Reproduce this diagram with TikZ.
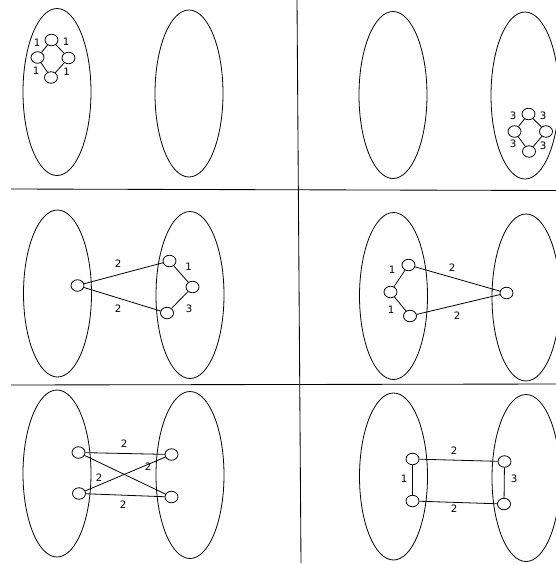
\documentclass[tikz,border=0pt]{standalone}
\usepackage{fontspec}
\setmainfont{DejaVu Sans}
\usetikzlibrary{shapes.geometric}
\begin{document}
\begin{tikzpicture}[x=1pt,y=-1pt,
  big/.style={draw,line width=0.8pt},
  vtx/.style={draw,ellipse,line width=0.8pt,minimum width=13pt,minimum height=11.5pt,inner sep=0pt},
  lbl/.style={font=\fontsize{10.2}{11}\selectfont,inner sep=0pt},
  edge/.style={line width=0.8pt},
  sep/.style={line width=0.85pt}]
\useasboundingbox (0,0) rectangle (556,565);
\clip (0,0) rectangle (556,565);
% separators
\coordinate (h1a) at (11,189); \coordinate (h1b) at (556,190.5);
\coordinate (h2a) at (11,385); \coordinate (h2b) at (556,384);
\coordinate (v1a) at (297,0); \coordinate (v1b) at (301,563);
\draw[sep] (h1a) -- (h1b);
\draw[sep] (h2a) -- (h2b);
\draw[sep] (v1a) -- (v1b);
% big ellipses
\foreach \cx/\cy in {57/92,189/93.5,393/95,525/95.5,57.5/293.5,190/295,393.5/296,526/297.5,57/473.5,190/475,393.5/476.5,526/478}
  \draw[big] (\cx,\cy) ellipse [x radius=34pt, y radius=83.5pt];
% panel 1
\node[vtx] (a1) at (51.5,40) {};
\node[vtx] (a2) at (37.5,57.5) {};
\node[vtx] (a3) at (68.5,58) {};
\node[vtx] (a4) at (51,77.5) {};
\draw[edge] (a1) -- (a2); \draw[edge] (a1) -- (a3);
\draw[edge] (a2) -- (a4); \draw[edge] (a3) -- (a4);
\node[lbl] (la1) at (37,43) {1};
\node[lbl] (la2) at (66,42) {1};
\node[lbl] (la3) at (36,71) {1};
\node[lbl] (la4) at (66.5,72) {1};
% panel 2
\node[vtx] (b1) at (528.5,114) {};
\node[vtx] (b2) at (514.5,131.5) {};
\node[vtx] (b3) at (546,131.5) {};
\node[vtx] (b4) at (529,151.5) {};
\draw[edge] (b1) -- (b2); \draw[edge] (b1) -- (b3);
\draw[edge] (b2) -- (b4); \draw[edge] (b3) -- (b4);
\node[lbl] (lb1) at (513,116) {3};
\node[lbl] (lb2) at (543,116) {3};
\node[lbl] (lb3) at (513,144) {3};
\node[lbl] (lb4) at (543,146) {3};
% panel 3
\node[vtx] (c1) at (77.5,285.5) {};
\node[vtx] (c2) at (169.5,261) {};
\node[vtx] (c3) at (192.5,287) {};
\node[vtx] (c4) at (167,313) {};
\draw[edge] (c1) -- (c2); \draw[edge] (c1) -- (c4);
\draw[edge] (c2) -- (c3); \draw[edge] (c3) -- (c4);
\node[lbl] (lc1) at (118,264) {2};
\node[lbl] (lc2) at (118,309) {2};
\node[lbl] (lc3) at (188.5,267) {1};
\node[lbl] (lc4) at (189,309) {3};
% panel 4
\node[vtx] (d1) at (408.5,265) {};
\node[vtx] (d2) at (390.5,292) {};
\node[vtx] (d3) at (410,316) {};
\node[vtx] (d4) at (506.5,293) {};
\draw[edge] (d1) -- (d2); \draw[edge] (d2) -- (d3);
\draw[edge] (d1) -- (d4); \draw[edge] (d3) -- (d4);
\node[lbl] (ld1) at (392,270) {1};
\node[lbl] (ld2) at (391,310) {1};
\node[lbl] (ld3) at (452,268) {2};
\node[lbl] (ld4) at (457,316) {2};
% panel 5
\node[vtx] (e1) at (78.5,452.5) {};
\node[vtx] (e2) at (79,493.5) {};
\node[vtx] (e3) at (171.5,454.5) {};
\node[vtx] (e4) at (171.5,497) {};
\draw[edge] (e1) -- (e3); \draw[edge] (e1) -- (e4);
\draw[edge] (e2) -- (e3); \draw[edge] (e2) -- (e4);
\node[lbl] (le1) at (124,444) {2};
\node[lbl] (le2) at (148,467) {2};
\node[lbl] (le3) at (99,478) {2};
\node[lbl] (le4) at (123,504.5) {2};
% panel 6
\node[vtx] (f1) at (412.5,459) {};
\node[vtx] (f2) at (412.5,501) {};
\node[vtx] (f3) at (504.5,461.5) {};
\node[vtx] (f4) at (504,504) {};
\draw[edge] (f1) -- (f3); \draw[edge] (f2) -- (f4);
\draw[edge] (f1) -- (f2); \draw[edge] (f3) -- (f4);
\node[lbl] (lf1) at (454,451) {2};
\node[lbl] (lf2) at (404,479) {1};
\node[lbl] (lf3) at (514,479) {3};
\node[lbl] (lf4) at (454,509) {2};
\end{tikzpicture}
\end{document}
